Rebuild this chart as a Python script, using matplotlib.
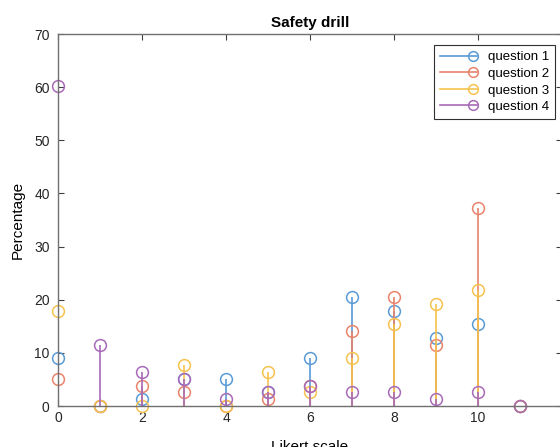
import numpy as np
import matplotlib
matplotlib.use("Agg")
import matplotlib.pyplot as plt
from matplotlib.lines import Line2D
from matplotlib.legend_handler import HandlerBase

plt.rcParams['font.family'] = ['Liberation Sans', 'DejaVu Sans']

likert = np.arange(0, 12)
q1 = [9.0, 0.0, 1.3, 5.1, 5.1, 2.6, 9.0, 20.5, 17.9, 12.8, 15.4, 0.0]
q2 = [5.1, 0.0, 3.8, 2.6, 0.0, 1.3, 3.8, 14.1, 20.5, 11.5, 37.2, 0.0]
q3 = [17.9, 0.0, 0.0, 7.7, 0.0, 6.4, 2.6, 9.0, 15.4, 19.2, 21.8, 0.0]
q4 = [60.3, 11.5, 6.4, 5.1, 1.3, 2.6, 3.8, 2.6, 2.6, 1.3, 2.6, 0.0]
labels = ["question 1", "question 2", "question 3", "question 4"]
colors = ["#5a9bd6", "#e9836b", "#f6c24e", "#a86ab8"]


# matlab style legend entry: line with the circle at its right end
class StemHandler(HandlerBase):
    def create_artists(self, legend, orig, xdescent, ydescent, width, height, fontsize, trans):
        y = height / 2 - ydescent
        ln = Line2D([-xdescent, width - xdescent], [y, y], color=orig.get_color(), lw=1.2)
        mk = Line2D([width - xdescent - 3], [y], marker='o', ls='none', markersize=7,
                    markerfacecolor='none', markeredgecolor=orig.get_color(), markeredgewidth=1.1)
        ln.set_transform(trans)
        mk.set_transform(trans)
        return [ln, mk]


fig = plt.figure(figsize=(5.6, 4.47), dpi=100)
ax = fig.add_axes([0.1036, 0.0917, 0.9, 0.832])

handles = []
for vals, lab, col in zip([q1, q2, q3, q4], labels, colors):
    ml, sl, bl = ax.stem(likert, vals, linefmt='-', markerfmt='o', basefmt=' ')
    plt.setp(sl, color=col, linewidth=1.2)
    plt.setp(ml, color=col, markerfacecolor='none', markersize=8.5, markeredgewidth=1.1, clip_on=False)
    handles.append(Line2D([], [], color=col, label=lab))

ax.set_xlim(0, 12)
ax.set_ylim(0, 70)
ax.set_xticks(range(0, 13, 2))
ax.set_xticklabels(['0', '2', '4', '6', '8', '10', ''])
ax.set_yticks(range(0, 71, 10))
ax.tick_params(direction='in', top=True, right=True, colors='#404040', labelcolor='#262626',
               labelsize=10, length=4)
ax.tick_params(axis='y', pad=6)
for s in ax.spines.values():
    s.set_color('#707070')
    s.set_linewidth(1.0)

ax.set_title("Safety drill", fontsize=11, fontweight='bold', pad=5)
ax.set_xlabel("Likert scale", fontsize=11, labelpad=11)
ax.set_ylabel("Percentage", fontsize=11, labelpad=7)

leg = ax.legend(handles=handles, handler_map={Line2D: StemHandler()},
                loc='upper right', bbox_to_anchor=(0.991, 0.899), bbox_transform=fig.transFigure,
                borderaxespad=0, fancybox=False, edgecolor='#303030', fontsize=9.5,
                handlelength=2.8, handletextpad=0.8, labelspacing=0.33, borderpad=0.45, framealpha=1)
leg.get_frame().set_linewidth(0.8)

fig.savefig("out.png", dpi=100)
